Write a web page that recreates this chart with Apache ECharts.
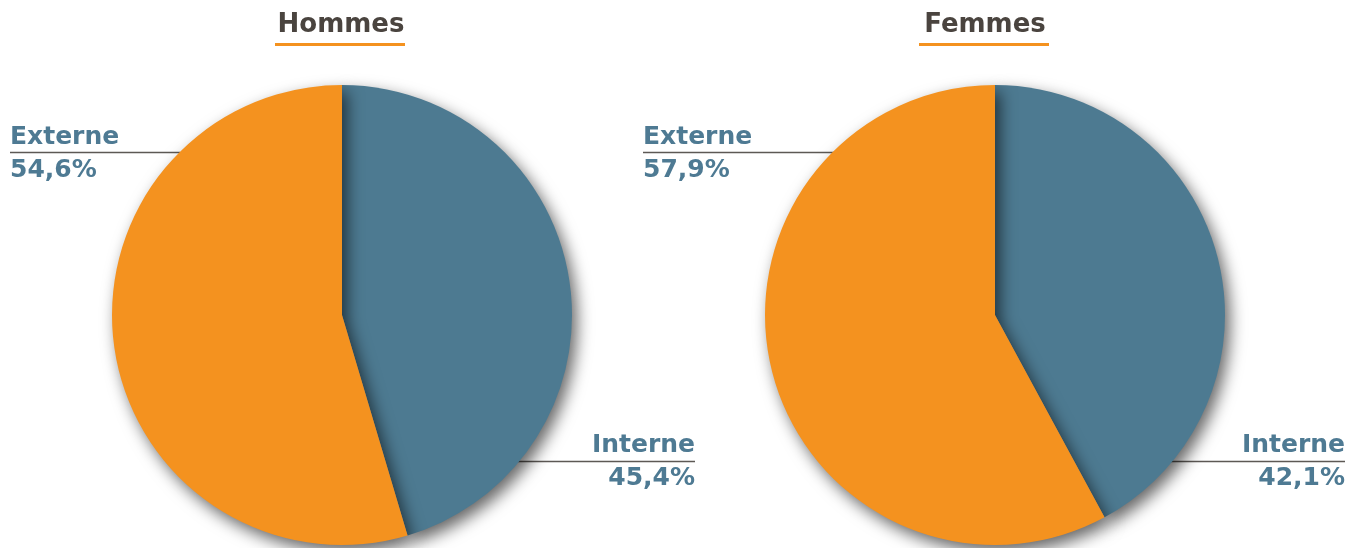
<!DOCTYPE html>
<html>
<head>
<meta charset="utf-8">
<script src="https://cdn.jsdelivr.net/npm/echarts@6/dist/echarts.min.js"></script>
<style>
  html, body { margin: 0; padding: 0; background: #fff; }
  #chart { width: 1357px; height: 548px; }
</style>
</head>
<body>
<div id="chart"></div>
<script>
// data
var groups = ['Hommes', 'Femmes'];
var categories = ['Interne', 'Externe'];
var interne = [45.4, 42.1];
var externe = [54.6, 57.9];

var ORANGE = '#f4921f';
var BLUE = '#4d7a91';
var LABEL = '#4e7a93';
var FONT = '"DejaVu Sans", sans-serif';

var chart = echarts.init(document.getElementById('chart'));

// layout of the two pies
var centers = [[342, 315], [995, 315]];
var titleX = [341, 985];
var extX = [10, 643], extLine = [180, 835];
var intX = [695, 1345], intLine = [513, 1165];

function fmt(v) {
  return v.toFixed(1).replace('.', ',') + '%';
}

var series = groups.map(function (g, i) {
  return {
    name: g,
    type: 'pie',
    center: centers[i],
    radius: 230,
    startAngle: 90,
    clockwise: true,
    silent: true,
    label: { show: false },
    labelLine: { show: false },
    itemStyle: {
      shadowBlur: 16,
      shadowOffsetX: 5,
      shadowOffsetY: 7,
      shadowColor: 'rgba(0,0,0,0.6)'
    },
    data: [
      { name: categories[0], value: interne[i], itemStyle: { color: BLUE } },
      { name: categories[1], value: externe[i], itemStyle: { color: ORANGE } }
    ]
  };
});

var graphic = [];
groups.forEach(function (g, i) {
  graphic.push({
    type: 'text', x: titleX[i], y: 25,
    style: { text: g, fill: '#4a443f', font: 'bold 26px ' + FONT, textAlign: 'center', textVerticalAlign: 'middle' }
  });
  graphic.push({
    type: 'rect', shape: { x: titleX[i] - 66, y: 43, width: 130, height: 3 },
    style: { fill: ORANGE }
  });
  // Externe label
  graphic.push({
    type: 'text', x: extX[i], y: 137,
    style: { text: categories[1], fill: LABEL, font: 'bold 25px ' + FONT, textVerticalAlign: 'middle' }
  });
  graphic.push({
    type: 'line', shape: { x1: extX[i], y1: 152.5, x2: extLine[i], y2: 152.5 },
    style: { stroke: '#5d5955', lineWidth: 1.5 }
  });
  graphic.push({
    type: 'text', x: extX[i], y: 170,
    style: { text: fmt(externe[i]), fill: LABEL, font: 'bold 25px ' + FONT, textVerticalAlign: 'middle' }
  });
  // Interne label
  graphic.push({
    type: 'text', x: intX[i], y: 445,
    style: { text: categories[0], fill: LABEL, font: 'bold 25px ' + FONT, textAlign: 'right', textVerticalAlign: 'middle' }
  });
  graphic.push({
    type: 'line', shape: { x1: intLine[i], y1: 461.5, x2: intX[i], y2: 461.5 },
    style: { stroke: '#5d5955', lineWidth: 1.5 }
  });
  graphic.push({
    type: 'text', x: intX[i], y: 478,
    style: { text: fmt(interne[i]), fill: LABEL, font: 'bold 25px ' + FONT, textAlign: 'right', textVerticalAlign: 'middle' }
  });
});

chart.setOption({
  backgroundColor: '#ffffff',
  animation: false,
  series: series,
  graphic: graphic
});
</script>
</body>
</html>
